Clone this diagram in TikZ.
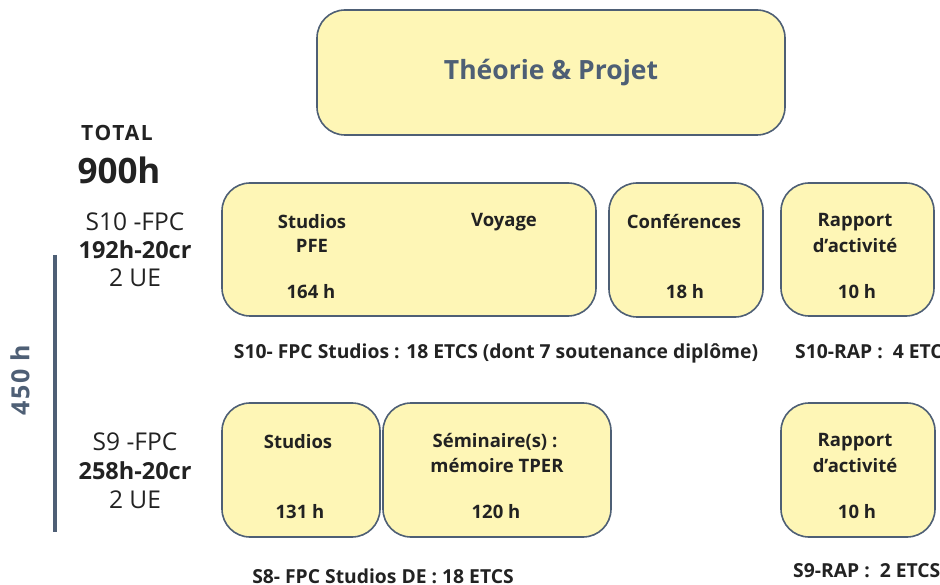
\documentclass[tikz,border=0pt]{standalone}
\usepackage{fontspec}
\setmainfont{Open Sans}
\definecolor{boxfill}{HTML}{FEF6B6}
\definecolor{slate}{HTML}{4E5F75}
\definecolor{ink}{HTML}{222222}
\begin{document}
\begin{tikzpicture}[x=1pt,y=-1pt,
  box/.style={draw=slate, line width=1.6pt, fill=boxfill, rounded corners=28pt, inner sep=0pt},
  lbl/.style={text=ink, font=\fontsize{18.5}{22}\selectfont\bfseries, inner sep=0pt},
  side/.style={text=ink, font=\fontsize{24.5}{28}\selectfont, inner sep=0pt},
  sideb/.style={text=ink, font=\fontsize{23.5}{28}\selectfont\bfseries, inner sep=0pt},
  captxt/.style={text=ink, font=\fontsize{19.3}{22}\selectfont\bfseries, inner sep=0pt}]
\clip (0,0) rectangle (940,585);
% top box
\node[box, minimum width=468pt, minimum height=125pt] (tp) at (551,72.5) {};
\node[text=slate, font=\fontsize{26.5}{30}\selectfont\bfseries, inner sep=0pt] (tpt) at (551,73) {Théorie \& Projet};
% left column
\node[text=ink, font=\fontsize{21}{24}\selectfont\bfseries\addfontfeatures{LetterSpace=8}, inner sep=0pt] (total) at (117,133) {TOTAL};
\node[text=ink, font=\fontsize{35}{40}\selectfont\bfseries, inner sep=0pt] (h900) at (119,170) {900h};
\node[side] (s10a) at (135,222) {S10 -FPC};
\node[sideb] (s10b) at (135,250) {192h-20cr};
\node[side] (s10c) at (135,278) {2 UE};
\node[side] (s9a) at (135,442) {S9 -FPC};
\node[sideb] (s9b) at (135,471) {258h-20cr};
\node[side] (s9c) at (135,500) {2 UE};
\coordinate (bt) at (55,255);
\coordinate (bb) at (55,532);
\draw[slate, line width=4.5pt] (bt) -- (bb);
\node[text=slate, font=\fontsize{25}{28}\selectfont\bfseries\addfontfeatures{LetterSpace=6}, rotate=90, inner sep=0pt] (h450) at (20,380) {450 h};
% S10 row
\node[box, minimum width=374pt, minimum height=133pt] (b1) at (409,249.5) {};
\node[lbl] (b1a) at (312,222) {Studios};
\node[lbl] (b1b) at (312,246) {PFE};
\node[lbl] (b1c) at (311,292) {164 h};
\node[lbl] (b1d) at (504,222) {Voyage};
\node[box, minimum width=154pt, minimum height=134pt] (b2) at (686,250) {};
\node[lbl] (b2a) at (684,222) {Conférences};
\node[lbl] (b2b) at (685,292) {18 h};
\node[box, minimum width=153pt, minimum height=133pt] (b3) at (857.5,249.5) {};
\node[lbl] (b3a) at (855,222) {Rapport};
\node[lbl] (b3b) at (855,246) {d’activité};
\node[lbl] (b3c) at (857,292) {10 h};
\node[captxt] (c1) at (496,353) {S10- FPC Studios : 18 ETCS (dont 7 soutenance diplôme)};
\node[captxt, anchor=west] (c2) at (795,352) {S10-RAP :\ \ 4 ETCS};
% S9 row
\node[box, minimum width=158pt, minimum height=134pt] (d1) at (301,470) {};
\node[lbl] (d1a) at (298,442) {Studios};
\node[lbl] (d1b) at (300,512) {131 h};
\node[box, minimum width=228pt, minimum height=134pt] (d2) at (497,470) {};
\node[lbl] (d2a) at (495,442) {Séminaire(s) :};
\node[lbl] (d2b) at (497,466) {mémoire TPER};
\node[lbl] (d2c) at (496,512) {120 h};
\node[box, minimum width=154pt, minimum height=134pt] (d3) at (858,470) {};
\node[lbl] (d3a) at (855,442) {Rapport};
\node[lbl] (d3b) at (855,466) {d’activité};
\node[lbl] (d3c) at (857,512) {10 h};
\node[captxt] (e1) at (383,576) {S8- FPC Studios DE : 18 ETCS};
\node[captxt, anchor=west] (e2) at (793,571) {S9-RAP :\ \ 2 ETCS};
\end{tikzpicture}
\end{document}
